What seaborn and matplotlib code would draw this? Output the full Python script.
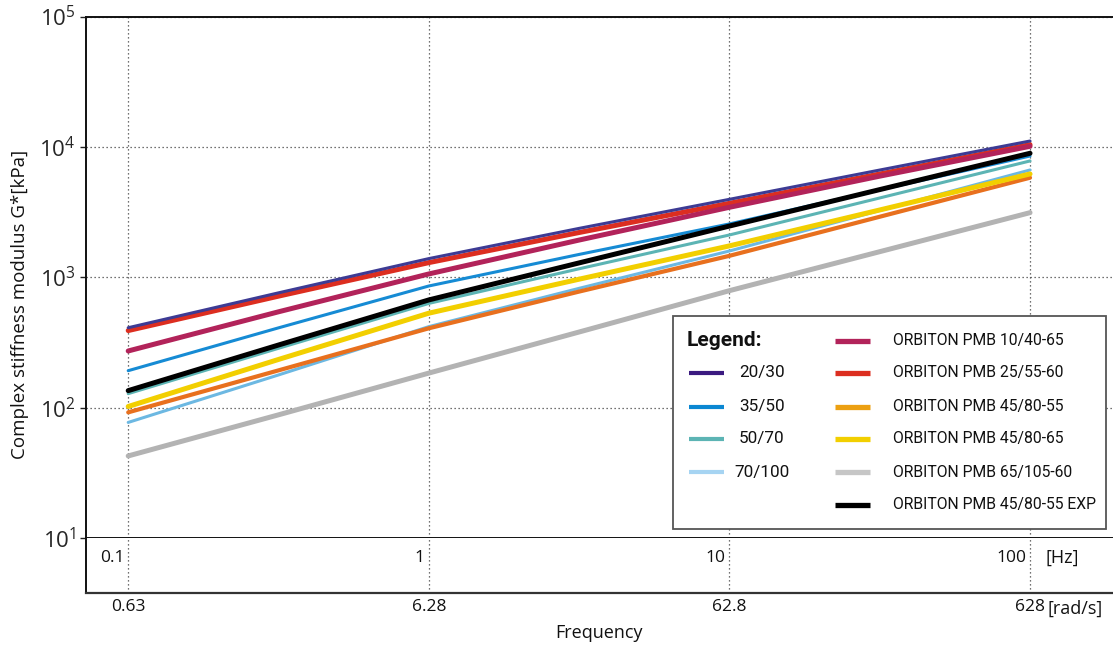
import matplotlib
matplotlib.use("Agg")
import matplotlib.pyplot as plt
import numpy as np
import pandas as pd
import seaborn as sns
from matplotlib import transforms
from matplotlib.lines import Line2D
from matplotlib.patches import Rectangle
from matplotlib.ticker import NullLocator, FixedLocator

# Frequency sweep points [Hz]
freq_hz = [0.1, 0.316, 1, 3.16, 10, 31.6, 100]

# Complex stiffness modulus G* [kPa] per binder
g_20_30 = [410, 759, 1390, 2370, 3960, 6640, 11090]
g_35_50 = [192, 409, 857, 1496, 2565, 4680, 8510]
g_50_70 = [128, 285, 630, 1161, 2110, 4055, 7800]
g_70_100 = [77, 178, 418, 822, 1590, 3250, 6650]
g_pmb_10_40_65 = [272, 543, 1060, 1928, 3440, 5960, 10100]
g_pmb_25_55_60 = [390, 716, 1295, 2203, 3690, 6190, 10400]
g_pmb_45_80_55 = [92, 193, 406, 776, 1460, 2910, 5800]
g_pmb_45_80_65 = [102, 234, 530, 966, 1740, 3280, 6200]
g_pmb_65_105_60 = [42.6, 88, 184, 380, 789, 1570, 3130]
g_pmb_45_80_55_exp = [135, 302, 670, 1288, 2470, 4700, 8930]

hz_ticks = [0.1, 1, 10, 100]
hz_labels = ["0.1", "1", "10", "100"]
rad_labels = ["0.63", "6.28", "62.8", "628"]

grades_plain = ["20/30", "35/50", "50/70", "70/100"]
grades_pmb = ["ORBITON PMB 10/40-65", "ORBITON PMB 25/55-60", "ORBITON PMB 45/80-55",
              "ORBITON PMB 45/80-65", "ORBITON PMB 65/105-60", "ORBITON PMB 45/80-55 EXP"]

series = {
    "20/30": g_20_30,
    "35/50": g_35_50,
    "50/70": g_50_70,
    "70/100": g_70_100,
    "ORBITON PMB 10/40-65": g_pmb_10_40_65,
    "ORBITON PMB 25/55-60": g_pmb_25_55_60,
    "ORBITON PMB 45/80-55": g_pmb_45_80_55,
    "ORBITON PMB 45/80-65": g_pmb_45_80_65,
    "ORBITON PMB 65/105-60": g_pmb_65_105_60,
    "ORBITON PMB 45/80-55 EXP": g_pmb_45_80_55_exp,
}

line_colors = {
    "20/30": "#3d3b94",
    "35/50": "#168bd4",
    "50/70": "#5cb4b4",
    "70/100": "#6cb8e2",
    "ORBITON PMB 10/40-65": "#b2235a",
    "ORBITON PMB 25/55-60": "#dc2e20",
    "ORBITON PMB 45/80-55": "#e8701e",
    "ORBITON PMB 45/80-65": "#f2cf00",
    "ORBITON PMB 65/105-60": "#b3b3b3",
    "ORBITON PMB 45/80-55 EXP": "#000000",
}
key_colors = dict(line_colors)
key_colors.update({
    "20/30": "#3b1a80",
    "35/50": "#0b87d2",
    "70/100": "#a6d4f2",
    "ORBITON PMB 45/80-55": "#eca012",
    "ORBITON PMB 65/105-60": "#c6c6c6",
})

thin, thick = 2.2, 3.6
line_widths = {g: thin for g in grades_plain}
line_widths.update({g: thick for g in grades_pmb})
line_widths["ORBITON PMB 45/80-55"] = 3.0

draw_order = ["ORBITON PMB 65/105-60", "70/100", "ORBITON PMB 45/80-55",
              "ORBITON PMB 45/80-65", "50/70", "35/50", "ORBITON PMB 45/80-55 EXP",
              "ORBITON PMB 25/55-60", "ORBITON PMB 10/40-65", "20/30"]

df = pd.DataFrame(
    [(g, f, v) for g, vals in series.items() for f, v in zip(freq_hz, vals)],
    columns=["grade", "freq", "G"],
)

sns.set_theme(style="white")
plt.rcParams["font.family"] = ["Open Sans", "DejaVu Sans"]
plt.rcParams["mathtext.fontset"] = "custom"
plt.rcParams["mathtext.rm"] = "Open Sans"
plt.rcParams["mathtext.it"] = "Open Sans:italic"
plt.rcParams["mathtext.bf"] = "Open Sans:bold"

W, H = 1113, 649
fig = plt.figure(figsize=(W / 100, H / 100), dpi=100)


def fx(px):
    return px / W


def fy(py):
    return 1 - py / H


L, R, T, B, B2 = 85.5, 1113, 16.5, 538, 593
ax = fig.add_axes([fx(L), fy(B), (R - L) / W, (B - T) / H])
band = fig.add_axes([fx(L), fy(B2), (R - L) / W, (B2 - B) / H])

xlim = (0.0721, 188.8)
ax.set_xscale("log")
ax.set_yscale("log")

sns.lineplot(data=df, x="freq", y="G", hue="grade", size="grade",
             hue_order=draw_order, size_order=draw_order,
             palette=line_colors, sizes=line_widths,
             estimator=None, legend=False, ax=ax)

for a in (ax, band):
    a.set_xscale("log")
    a.set_xlim(*xlim)
    a.xaxis.set_major_locator(FixedLocator(hz_ticks))
    a.xaxis.set_minor_locator(NullLocator())
    a.grid(True, axis="x", linestyle=(0, (1, 2.2)), color="#444444", linewidth=0.9)
    a.set_axisbelow(True)

ax.set_ylim(10, 1e5)
ax.yaxis.set_minor_locator(NullLocator())
ax.grid(True, axis="y", linestyle=(0, (1, 2.2)), color="#444444", linewidth=0.9)
ax.set_xticklabels([])
ax.tick_params(axis="x", length=0)
ax.tick_params(axis="y", which="major", left=True, length=4, width=1,
               color="#222222", direction="out", labelsize=16, pad=3)
ax.set_xlabel("")
ax.set_ylabel("")
for side in ("top", "left", "bottom"):
    ax.spines[side].set_visible(True)
    ax.spines[side].set_color("#111111")
    ax.spines[side].set_linewidth(1.4)
ax.spines["right"].set_visible(False)

band.set_ylim(0, 1)
band.set_yticks([])
band.set_xticklabels(rad_labels)
band.tick_params(axis="x", length=0, labelsize=12.5, pad=4, colors="#111111")
for side in ("top", "right"):
    band.spines[side].set_visible(False)
band.spines["left"].set_color("#111111")
band.spines["left"].set_linewidth(1.4)
band.spines["bottom"].set_color("#333333")
band.spines["bottom"].set_linewidth(1.6)

# Hz labels sit inside the band, just left of each grid line
blend = transforms.blended_transform_factory(band.transData, band.transAxes)
hz_trans = transforms.offset_copy(blend, fig=fig, x=-4, y=0, units="dots")
for t, lab in zip(hz_ticks, hz_labels):
    band.text(t, 0.64, lab, transform=hz_trans, ha="right", va="center",
              fontsize=12.5, color="#111111")
unit_trans = transforms.offset_copy(blend, fig=fig, x=15, y=0, units="dots")
band.text(hz_ticks[-1], 0.64, "[Hz]", transform=unit_trans, ha="left",
          va="center", fontsize=13, color="#111111")
rad_trans = transforms.offset_copy(blend, fig=fig, x=17, y=0, units="dots")
band.text(hz_ticks[-1], -0.29, "[rad/s]", transform=rad_trans, ha="left",
          va="center", fontsize=13, color="#111111")

fig.text(fx(599), fy(633), "Frequency", ha="center", va="center",
         fontsize=13, color="#111111")
fig.text(fx(20), fy(304), "Complex stiffness modulus G*[kPa]", ha="center",
         va="center", rotation=90, fontsize=13.5, color="#111111")

# Key box
key_font = ["Roboto", "DejaVu Sans"]
fig.add_artist(Rectangle((fx(673), fy(529)), (1106 - 673) / W, (529 - 316) / H,
                         transform=fig.transFigure, facecolor="white",
                         edgecolor="#555555", linewidth=1.3, zorder=5))
fig.text(fx(687), fy(340), "Legend:", ha="left", va="center", fontsize=15,
         fontweight="bold", family=key_font, color="#111111", zorder=6)
for g, yc in zip(grades_plain, [373, 407, 439, 472]):
    fig.add_artist(Line2D([fx(689), fx(724)], [fy(yc), fy(yc)], transform=fig.transFigure,
                          color=key_colors[g], linewidth=3.0, solid_capstyle="butt", zorder=6))
    fig.text(fx(762), fy(yc), g, ha="center", va="center", fontsize=12.3,
             family=key_font, color="#111111", zorder=6)
for g, yc in zip(grades_pmb, [341, 373, 407, 439, 472, 505]):
    fig.add_artist(Line2D([fx(835), fx(870)], [fy(yc), fy(yc)], transform=fig.transFigure,
                          color=key_colors[g], linewidth=3.8, solid_capstyle="butt", zorder=6))
    fig.text(fx(893), fy(yc), g, ha="left", va="center", fontsize=11.3,
             family=key_font, color="#111111", zorder=6)

fig.savefig("out.png", dpi=100)
